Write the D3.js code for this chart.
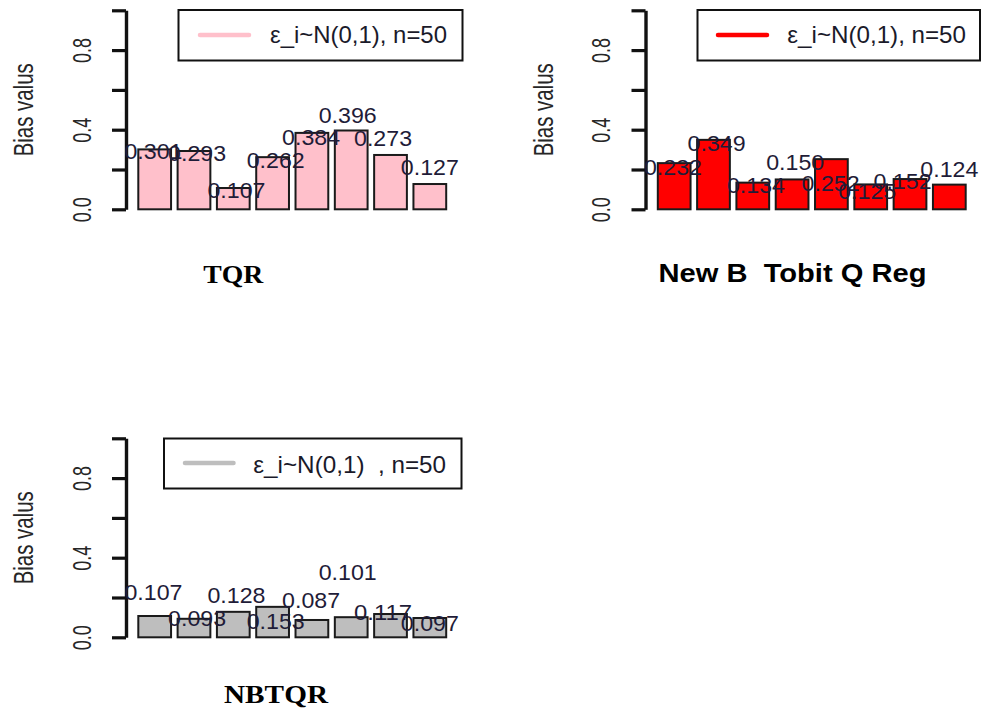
<!DOCTYPE html>
<html>
<head>
<meta charset="utf-8">
<script src="https://cdn.jsdelivr.net/npm/d3@7"></script>
<style>
  html, body { margin: 0; padding: 0; background: #ffffff; }
  svg { display: block; }
</style>
</head>
<body>
<script>
// ---- data ---------------------------------------------------------------
// eight simulation settings, one bar each
const settings = ["S1", "S2", "S3", "S4", "S5", "S6", "S7", "S8"];

// bias of each estimator per setting
const biasTQR       = [0.301, 0.293, 0.107, 0.262, 0.384, 0.396, 0.273, 0.127];
const biasNewBTobit = [0.232, 0.349, 0.134, 0.150, 0.252, 0.125, 0.152, 0.124];
const biasNBTQR     = [0.107, 0.093, 0.128, 0.153, 0.087, 0.101, 0.117, 0.097];

// height (in bias units) at which each value label is written
const labelAtTQR       = [0.290, 0.280, 0.095, 0.246, 0.363, 0.472, 0.358, 0.213];
const labelAtNewBTobit = [0.213, 0.333, 0.121, 0.238, 0.132, 0.092, 0.141, 0.200];
const labelAtNBTQR     = [0.229, 0.095, 0.213, 0.083, 0.187, 0.330, 0.129, 0.070];

const yTicks      = [0, 0.2, 0.4, 0.6, 0.8, 1.0];
const yTickLabels = ["0.0", "", "0.4", "", "0.8", ""];
const yTitle      = "Bias valus";

const legendLabels = ["ε_i~N(0,1), n=50", "ε_i~N(0,1), n=50", "ε_i~N(0,1)  , n=50"];
const panelTitles  = ["TQR", "New B  Tobit Q Reg", "NBTQR"];

// ---- layout ---------------------------------------------------------------
const W = 984, H = 711;
const SANS  = "'Liberation Sans', Arial, sans-serif";
const SERIF = "'Liberation Serif', 'Times New Roman', serif";
const INK = "#111111";
const LABEL_INK = "#1f1c38";

// small sideways shift of each value label, as a fraction of the bar step
const labelShift = [-0.03, 0.08, 0.08, 0.08, -0.02, -0.09, -0.19, 0.0];

const panels = [
  {
    values: biasTQR, labelAt: labelAtTQR, fill: "#FFC0CB",
    legend: legendLabels[0], title: panelTitles[0], titleFont: SERIF,
    axisX: 126, yTop: 10.3, yBottom: 209.3,
    box: [178.5, 10, 462.5, 60.5], line: [200, 249, 35], legendText: [270, 42.7, 177],
    titlePos: [233.3, 283.3, 60, 25.5]
  },
  {
    values: biasNewBTobit, labelAt: labelAtNewBTobit, fill: "#FF0000",
    legend: legendLabels[1], title: panelTitles[1], titleFont: SANS,
    axisX: 645.5, yTop: 10.3, yBottom: 209.3,
    box: [697.5, 10, 980, 60.5], line: [718, 767, 35], legendText: [787.3, 42.7, 178.7],
    titlePos: [792.5, 281.7, 268, 26]
  },
  {
    values: biasNBTQR, labelAt: labelAtNBTQR, fill: "#BEBEBE",
    legend: legendLabels[2], title: panelTitles[2], titleFont: SERIF,
    axisX: 126, yTop: 438.3, yBottom: 637.3,
    box: [164, 438.5, 461.5, 488.5], line: [185, 233.5, 463], legendText: [253.3, 472.7, 192.7],
    titlePos: [276, 703.3, 104, 25.5]
  }
];

const svg = d3.select("body").append("svg")
  .attr("width", W).attr("height", H)
  .attr("viewBox", `0 0 ${W} ${H}`);

svg.append("rect").attr("width", W).attr("height", H).attr("fill", "#ffffff");

function fit(sel, len) {
  return sel.attr("textLength", len).attr("lengthAdjust", "spacingAndGlyphs");
}

panels.forEach(p => {
  const g = svg.append("g");

  const y = d3.scaleLinear().domain([0, 1]).range([p.yBottom, p.yTop]);
  const x = d3.scaleBand()
    .domain(settings)
    .range([p.axisX + 12.3, p.axisX + 320.2])
    .paddingInner(0.2 / 1.2)
    .paddingOuter(0);

  // bars
  g.selectAll("rect.bar")
    .data(p.values)
    .join("rect")
    .attr("class", "bar")
    .attr("x", (d, i) => x(settings[i]))
    .attr("width", x.bandwidth())
    .attr("y", d => y(d))
    .attr("height", d => y(0) - y(d))
    .attr("fill", p.fill)
    .attr("stroke", "#1a1a1a")
    .attr("stroke-width", 2);

  // y axis
  const axis = d3.axisLeft(y)
    .tickValues(yTicks)
    .tickSize(14)
    .tickSizeOuter(0)
    .tickFormat((d, i) => yTickLabels[i]);

  const ag = g.append("g")
    .attr("transform", `translate(${p.axisX},0)`)
    .call(axis);
  ag.select(".domain").attr("stroke", INK).attr("stroke-width", 3.4);
  ag.selectAll(".tick line").attr("stroke", INK).attr("stroke-width", 3.2);
  ag.selectAll(".tick text")
    .attr("transform", "rotate(-90)")
    .attr("x", 0).attr("y", -35.3).attr("dy", 0)
    .attr("text-anchor", "middle")
    .attr("fill", "#262626")
    .style("font-family", SANS)
    .style("font-size", "26px")
    .each(function () {
      if (this.textContent) fit(d3.select(this), 25);
    });

  // y title
  fit(g.append("text")
    .attr("transform", `translate(${p.axisX - 93},${(p.yTop + p.yBottom) / 2}) rotate(-90)`)
    .attr("text-anchor", "middle")
    .attr("fill", "#262626")
    .style("font-family", SANS)
    .style("font-size", "28.5px")
    .text(yTitle), 93);

  // value labels
  g.selectAll("text.val")
    .data(p.values)
    .join("text")
    .attr("class", "val")
    .attr("x", (d, i) => x(settings[i]) + x.bandwidth() / 2 + labelShift[i] * x.step())
    .attr("y", (d, i) => y(p.labelAt[i]))
    .attr("dy", "0.35em")
    .attr("text-anchor", "middle")
    .attr("fill", LABEL_INK)
    .style("font-family", SANS)
    .style("font-size", "22.5px")
    .attr("textLength", 58)
    .attr("lengthAdjust", "spacingAndGlyphs")
    .text(d => d3.format(".3f")(d));

  // legend
  const [bx0, by0, bx1, by1] = p.box;
  g.append("rect")
    .attr("x", bx0).attr("y", by0)
    .attr("width", bx1 - bx0).attr("height", by1 - by0)
    .attr("fill", "#ffffff")
    .attr("stroke", INK).attr("stroke-width", 2);
  g.append("line")
    .attr("x1", p.line[0]).attr("x2", p.line[1])
    .attr("y1", p.line[2]).attr("y2", p.line[2])
    .attr("stroke", p.fill).attr("stroke-width", 4.5)
    .attr("stroke-linecap", "round");
  fit(g.append("text")
    .attr("x", p.legendText[0]).attr("y", p.legendText[1])
    .attr("fill", "#1a1a2a")
    .style("font-family", SANS)
    .style("font-size", "24.5px")
    .style("white-space", "pre")
    .text(p.legend), p.legendText[2]);

  // panel title
  fit(g.append("text")
    .attr("x", p.titlePos[0]).attr("y", p.titlePos[1])
    .attr("text-anchor", "middle")
    .attr("fill", "#000000")
    .style("font-family", p.titleFont)
    .style("font-weight", "bold")
    .style("font-size", p.titlePos[3] + "px")
    .style("white-space", "pre")
    .text(p.title), p.titlePos[2]);
});
</script>
</body>
</html>
